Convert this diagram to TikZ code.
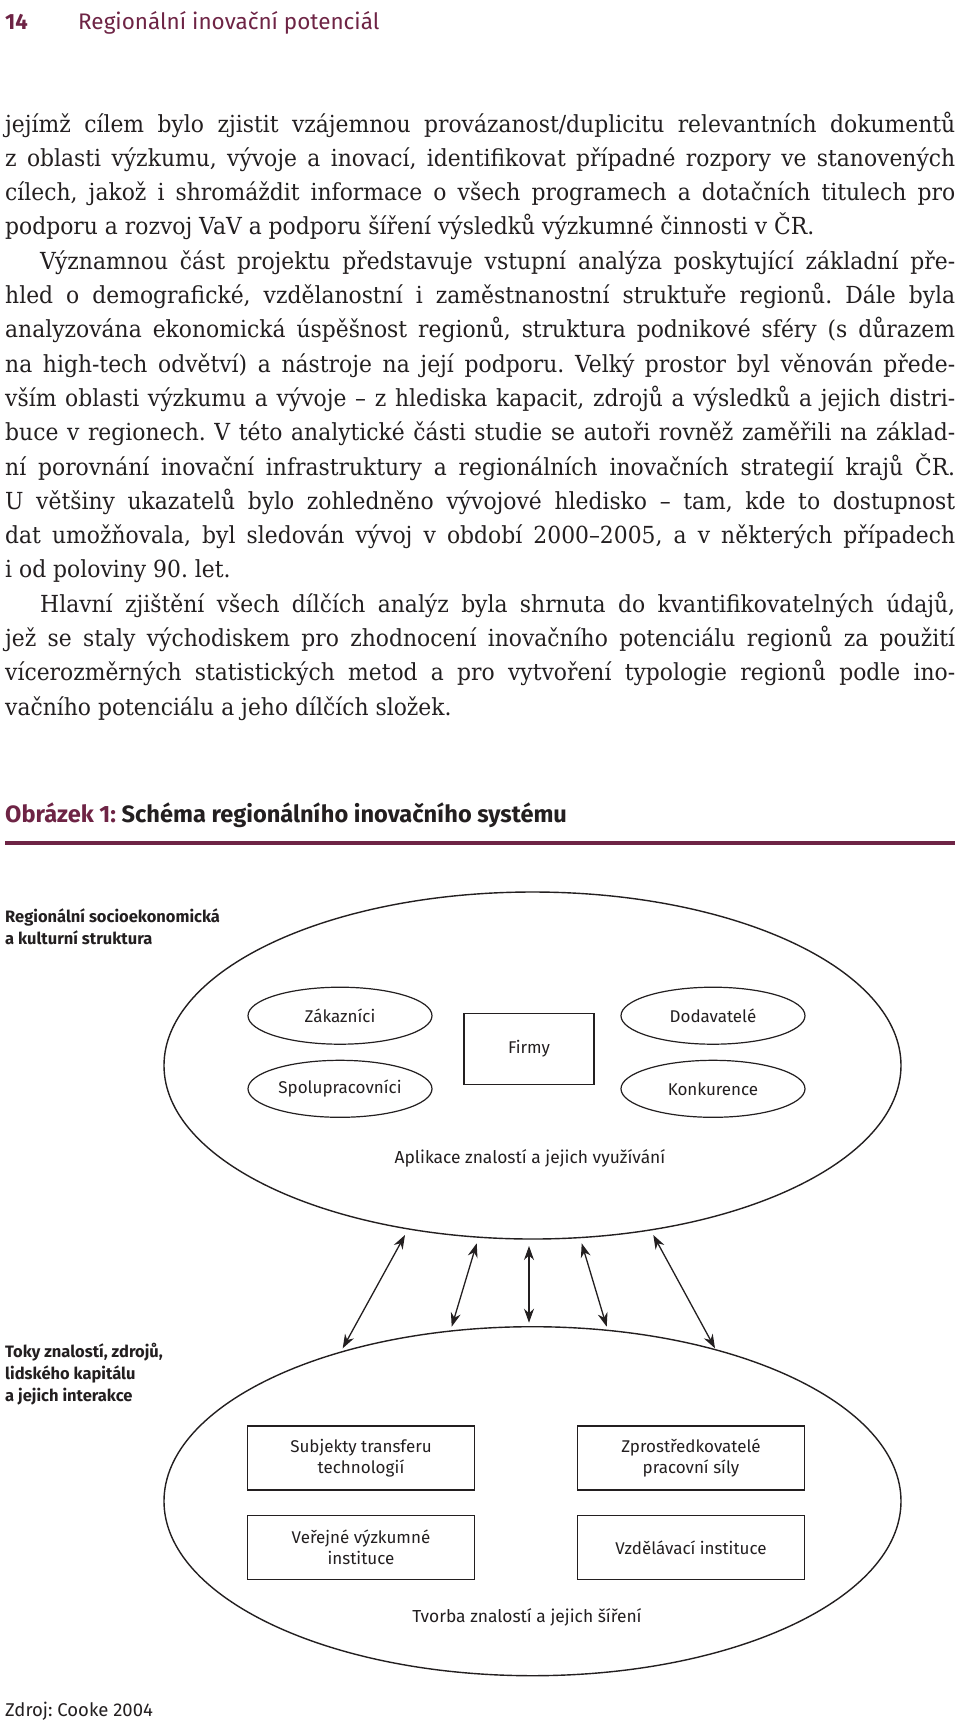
\documentclass[tikz,border=0pt]{standalone}
\usepackage{fontspec}
\setmainfont[FakeStretch=0.93]{DejaVu Serif}
\newfontfamily\fira{Fira Sans}
\usetikzlibrary{shapes.geometric,arrows.meta}
\definecolor{maroon}{HTML}{6E2445}
\definecolor{ink}{HTML}{231F20}
\frenchspacing
\begin{document}
\begin{tikzpicture}[x=1pt,y=-1pt,
  body/.style={anchor=base west, inner sep=0, text=ink, font=\fontsize{23.5}{30}\selectfont},
  side/.style={anchor=west, inner sep=0, align=left, text=ink, font=\fira\bfseries\fontsize{16.5}{22}\selectfont},
  lbl/.style={inner sep=0, align=center, text=ink, font=\fira\fontsize{17.4}{21}\selectfont},
  bigell/.style={draw=ink, line width=1.4pt, ellipse, inner sep=0, minimum width=737pt},
  smallell/.style={draw=ink, line width=1.2pt, ellipse, inner sep=0, minimum width=184pt, minimum height=57pt, text=ink, font=\fira\fontsize{17}{21}\selectfont},
  rectbox/.style={draw=ink, line width=1.2pt, rectangle, inner sep=0, minimum width=227pt, minimum height=64pt, align=center, text=ink, font=\fira\fontsize{17}{21}\selectfont},
  biarrow/.style={draw=ink, line width=1.3pt, {Stealth[length=14pt,width=10pt]}-{Stealth[length=14pt,width=10pt]}}
]
\path[use as bounding box, fill=white] (0,0) rectangle (960,1725);

% header
\node[anchor=base west, inner sep=0, text=maroon, font=\fira\bfseries\fontsize{22}{26}\selectfont] (pg) at (5,29.5) {14};
\node[anchor=base west, inner sep=0, text=maroon, font=\fira\fontsize{22.5}{26}\selectfont] (hd) at (78,29.5) {Regionální inovační potenciál};

% body text
\node[body] (t1) at (5,132) {\makebox[950pt][s]{jejímž cílem bylo zjistit vzájemnou provázanost/duplicitu relevantních dokumentů}};
\node[body] (t2) at (5,166.3) {\makebox[950pt][s]{z oblasti výzkumu, vývoje a inovací, identifikovat případné rozpory ve stanovených}};
\node[body] (t3) at (5,200.6) {\makebox[950pt][s]{cílech, jakož i shromáždit informace o všech programech a dotačních titulech pro}};
\node[body] (t4) at (5,234.9) {podporu a rozvoj VaV a podporu šíření výsledků výzkumné činnosti v ČR.};
\node[body] (t5) at (40,269.2) {\makebox[915pt][s]{Významnou část projektu představuje vstupní analýza poskytující základní pře-}};
\node[body] (t6) at (5,303.5) {\makebox[950pt][s]{hled o demografické, vzdělanostní i zaměstnanostní struktuře regionů. Dále byla}};
\node[body] (t7) at (5,337.8) {\makebox[950pt][s]{analyzována ekonomická úspěšnost regionů, struktura podnikové sféry (s důrazem}};
\node[body] (t8) at (5,372.1) {\makebox[950pt][s]{na high-tech odvětví) a nástroje na její podporu. Velký prostor byl věnován přede-}};
\node[body] (t9) at (5,406.4) {\makebox[950pt][s]{vším oblasti výzkumu a vývoje – z hlediska kapacit, zdrojů a výsledků a jejich distri-}};
\node[body] (t10) at (5,440.7) {\makebox[950pt][s]{buce v regionech. V této analytické části studie se autoři rovněž zaměřili na základ-}};
\node[body] (t11) at (5,475) {\makebox[950pt][s]{ní porovnání inovační infrastruktury a regionálních inovačních strategií krajů ČR.}};
\node[body] (t12) at (5,509.3) {\makebox[950pt][s]{U většiny ukazatelů bylo zohledněno vývojové hledisko – tam, kde to dostupnost}};
\node[body] (t13) at (5,543.6) {\makebox[950pt][s]{dat umožňovala, byl sledován vývoj v období 2000–2005, a v některých případech}};
\node[body] (t14) at (5,577.9) {i od poloviny 90. let.};
\node[body] (t15) at (40,612.2) {\makebox[915pt][s]{Hlavní zjištění všech dílčích analýz byla shrnuta do kvantifikovatelných údajů,}};
\node[body] (t16) at (5,646.5) {\makebox[950pt][s]{jež se staly východiskem pro zhodnocení inovačního potenciálu regionů za použití}};
\node[body] (t17) at (5,680.8) {\makebox[950pt][s]{vícerozměrných statistických metod a pro vytvoření typologie regionů podle ino-}};
\node[body] (t18) at (5,715.1) {vačního potenciálu a jeho dílčích složek.};

% figure title
\node[anchor=base west, inner sep=0, font=\fira\bfseries\fontsize{23.6}{27}\selectfont] (ttl) at (5,822) {\textcolor{maroon}{Obrázek 1:} \textcolor{ink}{Schéma regionálního inovačního systému}};
\draw[maroon, line width=4pt] (5,843) coordinate (rl) -- (955,843) coordinate (rr);

% side labels
\node[side] (sl1) at (5,927) {Regionální socioekonomická\\a kulturní struktura};
\node[side] (sl2) at (5,1374) {Toky znalostí, zdrojů,\\lidského kapitálu\\a jejich interakce};

% upper ellipse
\node[bigell, minimum height=347pt] (app) at (532.5,1065.5) {};
\node[smallell] (zak) at (340,1015.7) {Zákazníci};
\node[smallell] (spo) at (340,1088.8) {Spolupracovníci};
\node[smallell] (dod) at (713,1015.7) {Dodavatelé};
\node[smallell] (kon) at (713,1088.8) {Konkurence};
\node[rectbox, minimum width=130pt, minimum height=71pt] (fir) at (529,1048.7) {Firmy};
\node[lbl] (aplt) at (530,1158) {Aplikace znalostí a jejich využívání};

% lower ellipse
\node[bigell, minimum height=349pt] (cre) at (532.5,1501.2) {};
\node[rectbox] (sub) at (361,1458) {Subjekty transferu\\technologií};
\node[rectbox] (zpr) at (691,1458) {Zprostředkovatelé\\pracovní síly};
\node[rectbox] (ver) at (361,1547.5) {Veřejné výzkumné\\instituce};
\node[rectbox] (vzd) at (691,1547.5) {Vzdělávací instituce};
\node[lbl] (tvt) at (527,1617) {Tvorba znalostí a jejich šíření};

% arrows
\coordinate (a1t) at (405,1235); \coordinate (a1b) at (342.7,1348.3);
\coordinate (a2t) at (476.7,1243.3); \coordinate (a2b) at (451.7,1326.7);
\coordinate (a3t) at (529,1246); \coordinate (a3b) at (529,1322.7);
\coordinate (a4t) at (581.7,1243.3); \coordinate (a4b) at (606.7,1326.7);
\coordinate (a5t) at (653.3,1235); \coordinate (a5b) at (715,1348.3);
\draw[biarrow] (a1t) -- (a1b);
\draw[biarrow] (a2t) -- (a2b);
\draw[biarrow] (a3t) -- (a3b);
\draw[biarrow] (a4t) -- (a4b);
\draw[biarrow] (a5t) -- (a5b);

% source
\node[anchor=base west, inner sep=0, text=ink, font=\fira\fontsize{18.5}{22}\selectfont] (src) at (5,1716) {Zdroj: Cooke 2004};
\end{tikzpicture}
\end{document}
